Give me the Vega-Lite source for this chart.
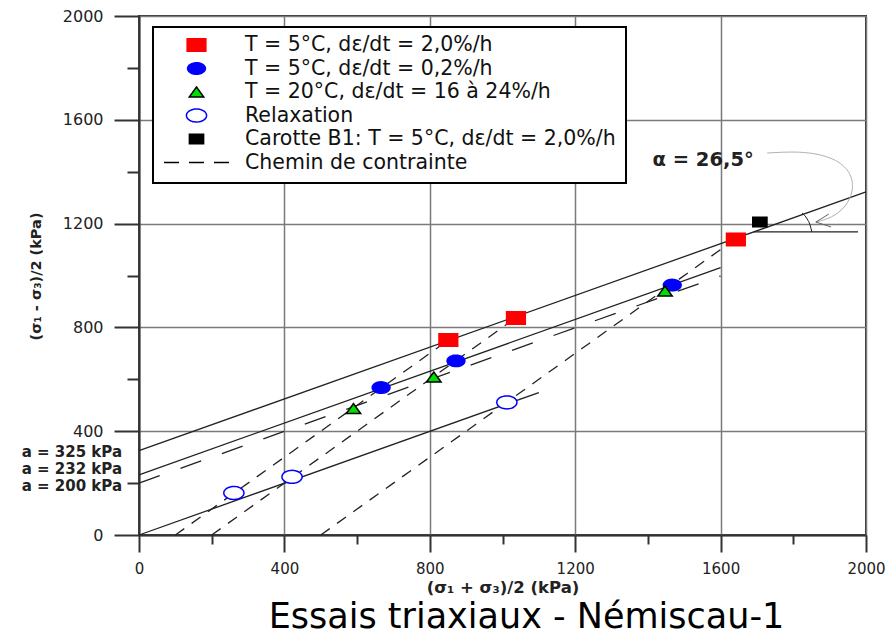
{
  "$schema": "https://vega.github.io/schema/vega-lite/v6.json",
  "width": 727,
  "height": 519,
  "autosize": {"type": "none"},
  "padding": {"left": 139, "top": 16, "right": 26, "bottom": 101},
  "background": "white",
  "title": {"text": "Essais triaxiaux - Némiscau-1", "orient": "bottom", "anchor": "middle", "font": "DejaVu Sans", "fontSize": 35, "fontWeight": "normal", "color": "#000", "dx": 24, "offset": 4},
  "datasets": {
    "solid": [
      {"id": "a325", "p": 0, "q": 325}, {"id": "a325", "p": 2000, "q": 1322},
      {"id": "a232", "p": 0, "q": 232}, {"id": "a232", "p": 1600, "q": 1030},
      {"id": "a0", "p": 0, "q": 0}, {"id": "a0", "p": 1100, "q": 549},
      {"id": "horiz", "p": 1691, "q": 1168}, {"id": "horiz", "p": 1978, "q": 1168}
    ],
    "longdash": [{"id": "a200", "p": 0, "q": 200}, {"id": "a200", "p": 1600, "q": 998}],
    "paths": [
      {"id": "s100", "p": 100, "q": 0}, {"id": "s100", "p": 850, "q": 750},
      {"id": "s200", "p": 200, "q": 0}, {"id": "s200", "p": 1040, "q": 840},
      {"id": "s500", "p": 500, "q": 0}, {"id": "s500", "p": 1645, "q": 1145}
    ],
    "arc": [{"i": 0, "p": 1824, "q": 1241}, {"i": 1, "p": 1838, "q": 1218}, {"i": 2, "p": 1846, "q": 1195}, {"i": 3, "p": 1851, "q": 1168}],
    "arrow": [
      {"i": 0, "p": 1728, "q": 1472}, {"i": 1, "p": 1832, "q": 1480}, {"i": 2, "p": 1915, "q": 1453},
      {"i": 3, "p": 1959, "q": 1399}, {"i": 4, "p": 1967, "q": 1329}, {"i": 5, "p": 1945, "q": 1264},
      {"i": 6, "p": 1906, "q": 1222}, {"i": 7, "p": 1862, "q": 1206}
    ],
    "chevron": [{"i": 0, "p": 1898, "q": 1237}, {"i": 1, "p": 1862, "q": 1206}, {"i": 2, "p": 1904, "q": 1187}],
    "pts": [
      {"series": "T = 5°C, dε/dt = 2,0%/h", "p": 851, "q": 751},
      {"series": "T = 5°C, dε/dt = 2,0%/h", "p": 1037, "q": 836},
      {"series": "T = 5°C, dε/dt = 2,0%/h", "p": 1642, "q": 1139},
      {"series": "T = 5°C, dε/dt = 0,2%/h", "p": 666, "q": 568},
      {"series": "T = 5°C, dε/dt = 0,2%/h", "p": 872, "q": 671},
      {"series": "T = 5°C, dε/dt = 0,2%/h", "p": 1467, "q": 963},
      {"series": "T = 20°C, dε/dt = 16 à 24%/h", "p": 590, "q": 487},
      {"series": "T = 20°C, dε/dt = 16 à 24%/h", "p": 811, "q": 609},
      {"series": "T = 20°C, dε/dt = 16 à 24%/h", "p": 1447, "q": 940},
      {"series": "Relaxation", "p": 261, "q": 162},
      {"series": "Relaxation", "p": 421, "q": 224},
      {"series": "Relaxation", "p": 1012, "q": 511},
      {"series": "Carotte B1: T = 5°C, dε/dt = 2,0%/h", "p": 1708, "q": 1206}
    ],
    "alabels": [
      {"label": "a = 325 kPa", "p": 0, "q": 320},
      {"label": "a = 232 kPa", "p": 0, "q": 254},
      {"label": "a = 200 kPa", "p": 0, "q": 189}
    ],
    "alpha": [{"label": "α = 26,5°", "p": 1552, "q": 1445}]
  },
  "layer": [
    {
      "data": {"name": "solid"},
      "mark": {"type": "line", "color": "#222", "strokeWidth": 1.3},
      "encoding": {
        "x": {
          "field": "p", "type": "quantitative",
          "scale": {"domain": [0, 2000], "nice": false, "zero": false},
          "axis": {
            "title": "(σ₁ + σ₃)/2 (kPa)",
            "titleFontSize": 16.5,
            "values": [0, 100, 200, 300, 400, 500, 600, 700, 800, 900, 1000, 1100, 1200, 1300, 1400, 1500, 1600, 1700, 1800, 1900, 2000],
            "format": "d",
            "labelExpr": "datum.value % 400 === 0 ? datum.label : ''",
            "labelFontSize": 15,
            "tickSize": {"condition": {"test": "datum.value % 400 !== 0", "value": 9}, "value": 17},
            "gridOpacity": {"condition": {"test": "datum.value % 400 !== 0", "value": 0}, "value": 1},
            "labelPadding": 9,
            "labelFlush": false,
            "labelOverlap": false,
            "titlePadding": 3
          }
        },
        "y": {
          "field": "q", "type": "quantitative",
          "scale": {"domain": [0, 2000], "nice": false, "zero": false},
          "axis": {
            "title": "(σ₁ - σ₃)/2 (kPa)",
            "titleFontSize": 14.5,
            "values": [0, 100, 200, 300, 400, 500, 600, 700, 800, 900, 1000, 1100, 1200, 1300, 1400, 1500, 1600, 1700, 1800, 1900, 2000],
            "format": "d",
            "labelExpr": "datum.value % 400 === 0 ? datum.label : ''",
            "tickSize": {"condition": {"test": "datum.value % 400 !== 0", "value": 12}, "value": 25},
            "gridOpacity": {"condition": {"test": "datum.value % 400 !== 0", "value": 0}, "value": 1},
            "labelPadding": 11,
            "labelOverlap": false,
            "titleX": -96,
            "titleY": 260
          }
        },
        "detail": {"field": "id"}
      }
    },
    {
      "data": {"name": "longdash"},
      "mark": {"type": "line", "color": "#222", "strokeWidth": 1.3, "strokeDash": [22, 22]},
      "encoding": {"x": {"field": "p", "type": "quantitative"}, "y": {"field": "q", "type": "quantitative"}, "detail": {"field": "id"}}
    },
    {
      "data": {"name": "paths"},
      "mark": {"type": "line", "color": "#222", "strokeWidth": 1.3, "strokeDash": [11, 9]},
      "encoding": {"x": {"field": "p", "type": "quantitative"}, "y": {"field": "q", "type": "quantitative"}, "detail": {"field": "id"}}
    },
    {
      "data": {"name": "arc"},
      "mark": {"type": "line", "color": "#222", "strokeWidth": 1, "interpolate": "monotone"},
      "encoding": {"x": {"field": "p", "type": "quantitative"}, "y": {"field": "q", "type": "quantitative"}, "order": {"field": "i"}}
    },
    {
      "data": {"name": "arrow"},
      "mark": {"type": "line", "color": "#b0b0b0", "strokeWidth": 1, "interpolate": "basis"},
      "encoding": {"x": {"field": "p", "type": "quantitative"}, "y": {"field": "q", "type": "quantitative"}, "order": {"field": "i"}}
    },
    {
      "data": {"name": "chevron"},
      "mark": {"type": "line", "color": "#666", "strokeWidth": 1},
      "encoding": {"x": {"field": "p", "type": "quantitative"}, "y": {"field": "q", "type": "quantitative"}, "order": {"field": "i"}}
    },
    {
      "data": {"name": "pts"},
      "mark": {"type": "point", "filled": true, "opacity": 1, "strokeWidth": 1.5},
      "encoding": {
        "x": {"field": "p", "type": "quantitative"},
        "y": {"field": "q", "type": "quantitative"},
        "shape": {
          "field": "series", "type": "nominal",
          "scale": {
            "domain": ["T = 5°C, dε/dt = 2,0%/h", "T = 5°C, dε/dt = 0,2%/h", "T = 20°C, dε/dt = 16 à 24%/h", "Relaxation", "Carotte B1: T = 5°C, dε/dt = 2,0%/h", "Chemin de contrainte"],
            "range": ["M-1.5,-1L1.5,-1L1.5,1L-1.5,1Z", "M-1.55,0A1.55,1,0,1,0,1.55,0A1.55,1,0,1,0,-1.55,0Z", "M0,-1L1.45,1L-1.45,1Z", "M-1.55,0A1.55,1,0,1,0,1.55,0A1.55,1,0,1,0,-1.55,0Z", "M-1.5,-1L1.5,-1L1.5,1L-1.5,1Z", "stroke"]
          },
          "legend": {
            "title": null, "orient": "none", "legendX": 14, "legendY": 11, "padding": 10,
            "strokeColor": "#000", "fillColor": "#fff", "cornerRadius": 0,
            "labelFont": "DejaVu Sans", "labelFontSize": 20.5, "labelColor": "#111", "labelLimit": 0,
            "labelOffset": 15, "rowPadding": 2.5, "clipHeight": 16, "symbolStrokeWidth": 1.5, "symbolOpacity": 1,
            "encode": {"legend": {"update": {"strokeWidth": {"value": 2}}}}
          }
        },
        "fill": {
          "field": "series", "type": "nominal",
          "scale": {
            "domain": ["T = 5°C, dε/dt = 2,0%/h", "T = 5°C, dε/dt = 0,2%/h", "T = 20°C, dε/dt = 16 à 24%/h", "Relaxation", "Carotte B1: T = 5°C, dε/dt = 2,0%/h", "Chemin de contrainte"],
            "range": ["#ff0000", "#0000ff", "#00dd00", "#ffffff", "#000000", "transparent"]
          },
          "legend": {
            "title": null, "orient": "none", "legendX": 14, "legendY": 11, "padding": 10,
            "strokeColor": "#000", "fillColor": "#fff", "cornerRadius": 0,
            "labelFont": "DejaVu Sans", "labelFontSize": 20.5, "labelColor": "#111", "labelLimit": 0,
            "labelOffset": 15, "rowPadding": 2.5, "clipHeight": 16, "symbolStrokeWidth": 1.5, "symbolOpacity": 1,
            "encode": {"legend": {"update": {"strokeWidth": {"value": 2}}}}
          }
        },
        "stroke": {
          "field": "series", "type": "nominal",
          "scale": {
            "domain": ["T = 5°C, dε/dt = 2,0%/h", "T = 5°C, dε/dt = 0,2%/h", "T = 20°C, dε/dt = 16 à 24%/h", "Relaxation", "Carotte B1: T = 5°C, dε/dt = 2,0%/h", "Chemin de contrainte"],
            "range": ["#ff0000", "#0000ff", "#000000", "#0000ff", "#000000", "#000000"]
          },
          "legend": {
            "title": null, "orient": "none", "legendX": 14, "legendY": 11, "padding": 10,
            "strokeColor": "#000", "fillColor": "#fff", "cornerRadius": 0,
            "labelFont": "DejaVu Sans", "labelFontSize": 20.5, "labelColor": "#111", "labelLimit": 0,
            "labelOffset": 15, "rowPadding": 2.5, "clipHeight": 16, "symbolStrokeWidth": 1.5, "symbolOpacity": 1,
            "encode": {"legend": {"update": {"strokeWidth": {"value": 2}}}}
          }
        },
        "size": {
          "field": "series", "type": "nominal",
          "scale": {
            "type": "ordinal",
            "domain": ["T = 5°C, dε/dt = 2,0%/h", "T = 5°C, dε/dt = 0,2%/h", "T = 20°C, dε/dt = 16 à 24%/h", "Relaxation", "Carotte B1: T = 5°C, dε/dt = 2,0%/h", "Chemin de contrainte"],
            "range": [156, 132, 100, 169, 90, 4225]
          },
          "legend": {
            "title": null, "orient": "none", "legendX": 14, "legendY": 11, "padding": 10,
            "strokeColor": "#000", "fillColor": "#fff", "cornerRadius": 0,
            "labelFont": "DejaVu Sans", "labelFontSize": 20.5, "labelColor": "#111", "labelLimit": 0,
            "labelOffset": 15, "rowPadding": 2.5, "clipHeight": 16, "symbolStrokeWidth": 1.5, "symbolOpacity": 1,
            "encode": {"legend": {"update": {"strokeWidth": {"value": 2}}}}
          }
        },
        "strokeDash": {
          "field": "series", "type": "nominal",
          "scale": {
            "domain": ["T = 5°C, dε/dt = 2,0%/h", "T = 5°C, dε/dt = 0,2%/h", "T = 20°C, dε/dt = 16 à 24%/h", "Relaxation", "Carotte B1: T = 5°C, dε/dt = 2,0%/h", "Chemin de contrainte"],
            "range": [[1, 0], [1, 0], [1, 0], [1, 0], [1, 0], [15, 10]]
          },
          "legend": {
            "title": null, "orient": "none", "legendX": 14, "legendY": 11, "padding": 10,
            "strokeColor": "#000", "fillColor": "#fff", "cornerRadius": 0,
            "labelFont": "DejaVu Sans", "labelFontSize": 20.5, "labelColor": "#111", "labelLimit": 0,
            "labelOffset": 15, "rowPadding": 2.5, "clipHeight": 16, "symbolStrokeWidth": 1.5, "symbolOpacity": 1,
            "encode": {"legend": {"update": {"strokeWidth": {"value": 2}}}}
          }
        }
      }
    },
    {
      "data": {"name": "alabels"},
      "mark": {"type": "text", "align": "right", "baseline": "middle", "dx": -17, "font": "DejaVu Sans", "fontSize": 15, "fontWeight": "bold", "color": "#222"},
      "encoding": {"x": {"field": "p", "type": "quantitative"}, "y": {"field": "q", "type": "quantitative"}, "text": {"field": "label"}}
    },
    {
      "data": {"name": "alpha"},
      "mark": {"type": "text", "align": "center", "baseline": "middle", "font": "DejaVu Sans", "fontSize": 19.5, "fontWeight": "bold", "color": "#222"},
      "encoding": {"x": {"field": "p", "type": "quantitative"}, "y": {"field": "q", "type": "quantitative"}, "text": {"field": "label"}}
    }
  ],
  "config": {
    "view": {"stroke": "#333", "strokeWidth": 2},
    "font": "DejaVu Sans",
    "axis": {
      "labelFont": "DejaVu Sans", "labelFontSize": 16, "labelColor": "#222",
      "titleFont": "DejaVu Sans", "titleFontSize": 14, "titleFontWeight": "bold", "titleColor": "#222",
      "domainColor": "#333", "domainWidth": 2,
      "tickColor": "#333", "tickWidth": 2,
      "gridColor": "#7a7a7a", "gridWidth": 1.5
    }
  }
}
